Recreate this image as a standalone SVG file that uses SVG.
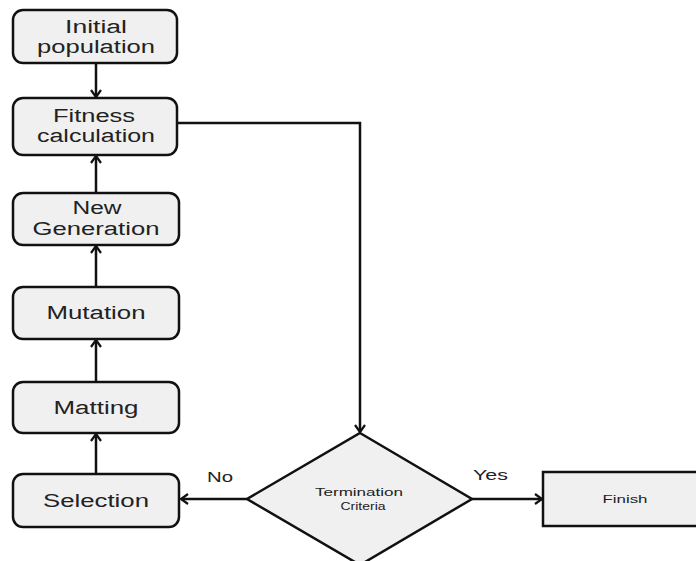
<svg xmlns="http://www.w3.org/2000/svg" width="696" height="561" viewBox="0 0 696 561">
<defs>
<style>
.box{fill:#f0f0f0;stroke:#111;stroke-width:2.5}
.t{font-family:"Liberation Sans",Arial,sans-serif;font-size:18px;fill:#222;text-anchor:middle}
.s{font-family:"Liberation Sans",Arial,sans-serif;font-size:11px;fill:#222;text-anchor:middle}
.l{font-family:"Liberation Sans",Arial,sans-serif;font-size:15px;fill:#222}
.c{fill:none;stroke:#111;stroke-width:2.5}
</style>
<marker id="a" markerWidth="12" markerHeight="12" refX="9" refY="6" orient="auto" markerUnits="userSpaceOnUse">
<path d="M2,1 L9,6 L2,11" fill="none" stroke="#111" stroke-width="2.2"/>
</marker>
</defs>
<rect width="696" height="561" fill="#fff"/>
<g id="connectors">
<line class="c" x1="96" y1="63" x2="96" y2="97" marker-end="url(#a)"/>
<line class="c" x1="96" y1="193" x2="96" y2="156" marker-end="url(#a)"/>
<line class="c" x1="96" y1="287" x2="96" y2="246" marker-end="url(#a)"/>
<line class="c" x1="96" y1="382" x2="96" y2="340" marker-end="url(#a)"/>
<line class="c" x1="96" y1="474" x2="96" y2="434" marker-end="url(#a)"/>
<polyline class="c" points="177,123 360,123 360,432" marker-end="url(#a)"/>
<line class="c" x1="247" y1="499" x2="181" y2="499" marker-end="url(#a)"/>
<line class="c" x1="472" y1="499" x2="542" y2="499" marker-end="url(#a)"/>
<text class="l" x="207" y="482" textLength="26" lengthAdjust="spacingAndGlyphs">No</text>
<text class="l" x="473" y="480" textLength="35" lengthAdjust="spacingAndGlyphs">Yes</text>
</g>
<g id="initial">
<rect class="box" x="13" y="10" width="164" height="53" rx="10"/>
<text class="t" x="96" y="33" textLength="62" lengthAdjust="spacingAndGlyphs">Initial</text>
<text class="t" x="96" y="53" textLength="118" lengthAdjust="spacingAndGlyphs">population</text>
</g>
<g id="fitness">
<rect class="box" x="13" y="98" width="164" height="57" rx="10"/>
<text class="t" x="94" y="122" textLength="82" lengthAdjust="spacingAndGlyphs">Fitness</text>
<text class="t" x="96" y="142" textLength="118" lengthAdjust="spacingAndGlyphs">calculation</text>
</g>
<g id="newgen">
<rect class="box" x="13" y="193" width="166" height="52" rx="10"/>
<text class="t" x="97" y="214" textLength="49" lengthAdjust="spacingAndGlyphs">New</text>
<text class="t" x="96" y="235" textLength="127" lengthAdjust="spacingAndGlyphs">Generation</text>
</g>
<g id="mutation">
<rect class="box" x="13" y="287" width="166" height="52" rx="10"/>
<text class="t" x="96" y="319" textLength="99" lengthAdjust="spacingAndGlyphs">Mutation</text>
</g>
<g id="matting">
<rect class="box" x="13" y="382" width="166" height="51" rx="10"/>
<text class="t" x="96" y="414" textLength="85" lengthAdjust="spacingAndGlyphs">Matting</text>
</g>
<g id="selection">
<rect class="box" x="13" y="474" width="166" height="53" rx="10"/>
<text class="t" x="96" y="507" textLength="106" lengthAdjust="spacingAndGlyphs">Selection</text>
</g>
<g id="termination">
<polygon class="box" points="360,433 472,499 360,565 247,499"/>
<text class="s" x="359" y="496" textLength="88" lengthAdjust="spacingAndGlyphs">Termination</text>
<text class="s" x="363" y="510" textLength="45" lengthAdjust="spacingAndGlyphs">Criteria</text>
</g>
<g id="finish">
<rect class="box" x="543" y="472" width="155" height="54"/>
<text class="s" x="625" y="503" textLength="45" lengthAdjust="spacingAndGlyphs">Finish</text>
</g>
</svg>
